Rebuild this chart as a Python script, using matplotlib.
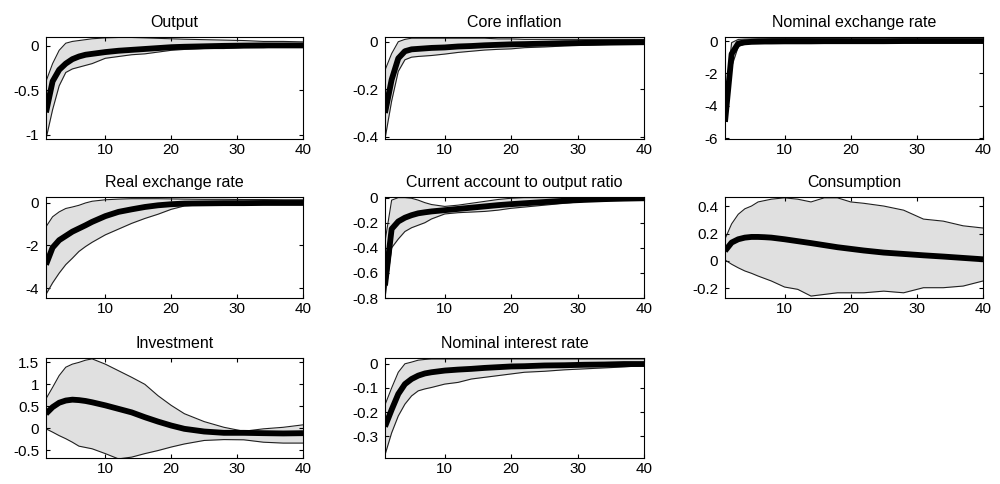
import matplotlib
matplotlib.use("Agg")
import matplotlib.pyplot as plt

plt.rcParams['font.family'] = ['Liberation Sans', 'DejaVu Sans']
plt.rcParams['axes.unicode_minus'] = False

horizon = [1, 2, 3, 4, 5, 6, 7, 8, 10, 12, 14, 16, 18, 20, 22, 25, 28, 31, 34, 37, 40]

titles = ["Output", "Core inflation", "Nominal exchange rate",
          "Real exchange rate", "Current account to output ratio", "Consumption",
          "Investment", "Nominal interest rate"]

output_med = [-0.75, -0.4, -0.27, -0.2, -0.15, -0.12, -0.1, -0.09, -0.07, -0.055, -0.045, -0.035, -0.025, -0.015, -0.01, -0.005, 0.0, 0.003, 0.005, 0.005, 0.005]
output_up = [-0.4, -0.2, -0.05, 0.03, 0.05, 0.06, 0.07, 0.08, 0.09, 0.095, 0.095, 0.09, 0.085, 0.08, 0.075, 0.07, 0.065, 0.06, 0.05, 0.05, 0.045]
output_lo = [-1.05, -0.72, -0.45, -0.3, -0.26, -0.24, -0.22, -0.2, -0.14, -0.12, -0.1, -0.09, -0.07, -0.05, -0.04, -0.03, -0.03, -0.02, -0.02, -0.01, -0.01]

core_med = [-0.3, -0.16, -0.07, -0.04, -0.032, -0.03, -0.028, -0.026, -0.024, -0.02, -0.018, -0.015, -0.013, -0.011, -0.01, -0.008, -0.006, -0.005, -0.004, -0.003, -0.002]
core_up = [-0.12, -0.05, 0.0, 0.01, 0.015, 0.015, 0.015, 0.015, 0.015, 0.015, 0.015, 0.015, 0.012, 0.012, 0.01, 0.01, 0.01, 0.01, 0.01, 0.01, 0.01]
core_lo = [-0.41, -0.25, -0.125, -0.076, -0.065, -0.062, -0.06, -0.058, -0.052, -0.045, -0.04, -0.035, -0.032, -0.03, -0.025, -0.022, -0.018, -0.015, -0.012, -0.01, -0.008]

nomex_med = [-5.0, -0.8, -0.15, -0.08, -0.05, -0.04, -0.03, -0.03, -0.02, -0.02, -0.02, -0.01, -0.01, -0.01, -0.01, -0.01, 0, 0, 0, 0, 0]
nomex_up = [-4.0, -0.1, 0.1, 0.12, 0.13, 0.14, 0.14, 0.15, 0.15, 0.15, 0.15, 0.14, 0.14, 0.13, 0.13, 0.12, 0.12, 0.11, 0.11, 0.1, 0.1]
nomex_lo = [-5.1, -1.6, -0.35, -0.18, -0.14, -0.12, -0.11, -0.1, -0.1, -0.09, -0.08, -0.07, -0.06, -0.05, -0.05, -0.04, -0.04, -0.03, -0.03, -0.03, -0.03]

realex_med = [-2.9, -2.1, -1.75, -1.55, -1.35, -1.2, -1.05, -0.89, -0.62, -0.42, -0.3, -0.19, -0.11, -0.06, -0.03, -0.02, -0.01, -0.01, 0, 0, 0]
realex_up = [-1.12, -0.65, -0.42, -0.26, -0.19, -0.11, 0.0, 0.08, 0.15, 0.18, 0.2, 0.2, 0.2, 0.19, 0.18, 0.17, 0.17, 0.16, 0.16, 0.15, 0.15]
realex_lo = [-4.3, -3.76, -3.3, -2.9, -2.6, -2.28, -2.05, -1.85, -1.5, -1.23, -0.96, -0.73, -0.53, -0.3, -0.14, -0.08, -0.05, -0.04, -0.03, -0.02, -0.02]

ca_med = [-0.7, -0.25, -0.19, -0.16, -0.14, -0.125, -0.117, -0.11, -0.1, -0.09, -0.08, -0.07, -0.06, -0.052, -0.045, -0.035, -0.025, -0.018, -0.012, -0.008, -0.005]
ca_up = [-0.35, -0.02, 0.0, 0.0, -0.005, -0.02, -0.04, -0.055, -0.07, -0.06, -0.045, -0.03, -0.015, -0.005, 0.0, 0.0, 0.0, 0.0, 0.0, 0.0, 0.0]
ca_lo = [-0.8, -0.4, -0.33, -0.27, -0.24, -0.22, -0.2, -0.17, -0.13, -0.12, -0.115, -0.11, -0.1, -0.085, -0.075, -0.06, -0.045, -0.03, -0.02, -0.012, -0.008]

cons_med = [0.073, 0.134, 0.158, 0.17, 0.175, 0.175, 0.173, 0.17, 0.158, 0.144, 0.13, 0.115, 0.1, 0.088, 0.076, 0.061, 0.051, 0.041, 0.032, 0.022, 0.012]
cons_up = [0.16, 0.27, 0.34, 0.38, 0.4, 0.43, 0.44, 0.45, 0.46, 0.45, 0.43, 0.46, 0.46, 0.43, 0.42, 0.4, 0.37, 0.305, 0.29, 0.256, 0.24]
cons_lo = [0.007, -0.024, -0.05, -0.073, -0.09, -0.11, -0.128, -0.146, -0.19, -0.207, -0.256, -0.244, -0.232, -0.232, -0.232, -0.22, -0.232, -0.195, -0.195, -0.183, -0.146]

inv_med = [0.33, 0.48, 0.58, 0.63, 0.65, 0.64, 0.62, 0.59, 0.52, 0.44, 0.36, 0.25, 0.15, 0.06, -0.015, -0.076, -0.106, -0.106, -0.114, -0.12, -0.114]
inv_up = [0.67, 0.93, 1.2, 1.39, 1.46, 1.5, 1.55, 1.58, 1.46, 1.31, 1.16, 1.0, 0.74, 0.52, 0.33, 0.15, 0.02, -0.07, -0.015, 0.02, 0.076]
inv_lo = [-0.015, -0.09, -0.17, -0.24, -0.32, -0.41, -0.44, -0.47, -0.58, -0.7, -0.66, -0.58, -0.51, -0.43, -0.36, -0.28, -0.26, -0.265, -0.32, -0.34, -0.34]

rate_med = [-0.26, -0.19, -0.125, -0.084, -0.063, -0.049, -0.04, -0.035, -0.028, -0.024, -0.021, -0.017, -0.014, -0.011, -0.01, -0.007, -0.006, -0.004, -0.003, -0.001, -0.001]
rate_up = [-0.17, -0.1, -0.035, 0.0, 0.007, 0.015, 0.018, 0.02, 0.02, 0.02, 0.02, 0.02, 0.02, 0.02, 0.02, 0.02, 0.02, 0.02, 0.02, 0.02, 0.02]
rate_lo = [-0.377, -0.286, -0.216, -0.167, -0.133, -0.112, -0.104, -0.098, -0.084, -0.077, -0.063, -0.056, -0.049, -0.042, -0.035, -0.031, -0.025, -0.021, -0.017, -0.013, -0.007]

meds = [output_med, core_med, nomex_med, realex_med, ca_med, cons_med, inv_med, rate_med]
ups = [output_up, core_up, nomex_up, realex_up, ca_up, cons_up, inv_up, rate_up]
los = [output_lo, core_lo, nomex_lo, realex_lo, ca_lo, cons_lo, inv_lo, rate_lo]

yticks = [[-1, -0.5, 0], [-0.4, -0.2, 0], [-6, -4, -2, 0],
          [-4, -2, 0], [-0.8, -0.6, -0.4, -0.2, 0], [-0.2, 0, 0.2, 0.4],
          [-0.5, 0, 0.5, 1, 1.5], [-0.3, -0.2, -0.1, 0]]
ylims = [(-1.05, 0.1), (-0.41, 0.02), (-6.06, 0.25),
         (-4.47, 0.28), (-0.8, 0.005), (-0.27, 0.466),
         (-0.68, 1.6), (-0.39, 0.024)]

# axes boxes in pixels (left, top, right, bottom)
col_x = [(46, 303), (385, 644), (725, 983)]
row_y = [(37, 139), (197, 298), (358, 458)]

W, H = 1000, 484
fig = plt.figure(figsize=(10, 4.84), dpi=100, facecolor='white')

for i in range(8):
    r, c = i // 3, i % 3
    x0, x1 = col_x[c]
    y0, y1 = row_y[r]
    ax = fig.add_axes([x0 / W, 1 - y1 / H, (x1 - x0) / W, (y1 - y0) / H])
    ax.fill_between(horizon, los[i], ups[i], color='#e0e0e0', lw=0)
    ax.plot(horizon, ups[i], color='#202020', lw=0.8)
    ax.plot(horizon, los[i], color='#202020', lw=0.8)
    ax.plot(horizon, meds[i], color='black', lw=4.2, solid_capstyle='butt')
    ax.set_xlim(1, 40)
    ax.set_ylim(*ylims[i])
    ax.set_xticks([10, 20, 30, 40])
    ax.set_yticks(yticks[i])
    ax.set_yticklabels(['%g' % v for v in yticks[i]])
    ax.tick_params(direction='in', length=3, top=True, right=True, labelsize=11)
    ax.tick_params(axis='x', pad=3)
    ax.tick_params(axis='y', pad=5)
    for s in ax.spines.values():
        s.set_linewidth(0.8)
    ax.set_title(titles[i], fontsize=11.5, pad=7)

plt.savefig("out.png", dpi=100)
